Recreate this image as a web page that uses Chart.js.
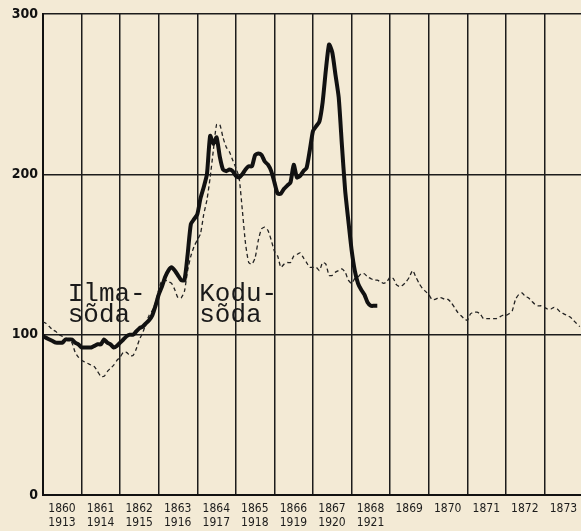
<!DOCTYPE html>
<html>
<head>
<meta charset="utf-8">
<script src="https://cdn.jsdelivr.net/npm/chart.js@4.4.0/dist/chart.umd.min.js"></script>
<style>
  html, body { margin: 0; padding: 0; background: #f3ead5; overflow: hidden; }
  canvas { display: block; }
</style>
</head>
<body>
<canvas id="priceChart" width="600" height="531"></canvas>
<script>
// year labels, one per column (top row: 1860s, bottom row: 1910s)
const yearsTop = ["1860", "1861", "1862", "1863", "1864", "1865", "1866", "1867", "1868", "1869", "1870", "1871", "1872", "1873"];
const yearsBottom = ["1913", "1914", "1915", "1916", "1917", "1918", "1919", "1920", "1921"];
const yTicks = [0, 100, 200, 300];

// monthly index values, 1913 = start (thick line)
const worldWar = [
  99, 98, 97, 96, 95, 95, 95, 97, 97, 97, 95, 94,
  92, 92, 92, 92, 93, 94, 94, 97, 95, 94, 92, 93,
  95, 97, 99, 100, 100, 102, 104, 105, 107, 109, 112, 118,
  125, 130, 136, 140, 142, 140, 137, 134, 134, 150, 169, 172,
  175, 185, 192, 200, 224, 219, 223, 211, 203, 202, 203, 202,
  199, 198, 200, 203, 205, 205, 212, 213, 212, 208, 206, 202,
  195, 188, 188, 191, 193, 195, 206, 198, 199, 202, 204, 215,
  227, 230, 233, 245, 265, 281, 276, 262, 248, 218, 190, 171,
  153, 140, 132, 128, 125, 120, 118, 118, 118
];

// monthly index values, 1860 = start (dashed line)
const civilWar = [
  108, 107, 105, 103, 102, 100, 99, 98, 97, 95, 89, 86,
  84, 83, 82, 81, 80, 77, 74, 74, 77, 79, 81, 84,
  86, 89, 89, 87, 87, 91, 97, 101, 107, 112, 115, 120,
  128, 134, 134, 133, 132, 128, 123, 123, 127, 140, 149, 155,
  159, 163, 175, 184, 198, 215, 231, 231, 223, 217, 214, 209,
  204, 198, 178, 157, 145, 144, 148, 159, 166, 167, 165, 159,
  152, 149, 142, 144, 145, 145, 149, 150, 151, 148, 145, 142,
  142, 142, 140, 145, 144, 137, 137, 139, 140, 141, 139, 134,
  132, 135, 136, 138, 138, 136, 135, 134, 134, 133, 132, 133,
  136, 135, 131, 130, 131, 133, 136, 140, 136, 132, 129, 127,
  125, 122, 122, 123, 123, 122, 122, 120, 117, 114, 112, 110,
  109, 113, 114, 114, 113, 110, 110, 110, 110, 110, 111, 112,
  112, 113, 115, 122, 125, 126, 124, 123, 121, 119, 118, 118,
  117, 116, 116, 117, 116, 114, 113, 112, 111, 109, 107, 105
];

const toPoints = arr => arr.map((v, i) => ({ x: i / 12, y: v }));

const paper = {
  id: "paper",
  beforeDraw(chart) {
    const c = chart.ctx;
    c.save();
    c.fillStyle = "#f3ead5";
    c.fillRect(0, 0, chart.width, chart.height);
    c.restore();
  }
};

// "Ilma-sõda" / "Kodu-sõda" labels inside the plot
const warLabels = {
  id: "warLabels",
  afterDatasetsDraw(chart) {
    const { ctx, scales: { x, y } } = chart;
    ctx.save();
    ctx.fillStyle = "#1a1a1a";
    ctx.font = "26px 'Liberation Mono', monospace";
    ctx.textBaseline = "alphabetic";
    ctx.fillText("Ilma-", x.getPixelForValue(0.64), y.getPixelForValue(121));
    ctx.fillText("sõda", x.getPixelForValue(0.64), y.getPixelForValue(108));
    ctx.fillText("Kodu-", x.getPixelForValue(4.05), y.getPixelForValue(121));
    ctx.fillText("sõda", x.getPixelForValue(4.05), y.getPixelForValue(108));
    ctx.restore();
  }
};

new Chart(document.getElementById("priceChart"), {
  type: "line",
  data: {
    datasets: [{
      label: "1913-1921",
      data: toPoints(worldWar),
      borderColor: "#111",
      borderWidth: 4,
      borderJoinStyle: "round",
      borderCapStyle: "butt",
      pointRadius: 0,
      tension: 0.2
    }, {
      label: "1860-1873",
      data: toPoints(civilWar),
      borderColor: "#222",
      borderWidth: 1.3,
      borderDash: [4, 3],
      pointRadius: 0,
      tension: 0.2
    }]
  },
  options: {
    responsive: false,
    animation: false,
    devicePixelRatio: 1,
    layout: { padding: { top: 14, right: 17, left: 0, bottom: 0 } },
    plugins: {
      legend: { display: false },
      tooltip: { enabled: false }
    },
    scales: {
      x: {
        type: "linear",
        min: 0,
        max: 14,
        afterFit(scale) { scale.height = 36; },
        afterBuildTicks(scale) {
          scale.ticks = yearsTop.map((_, i) => ({ value: i })).concat([{ value: 14 }]);
        },
        grid: { color: "#1c1c1c", lineWidth: 1.5, drawTicks: false },
        border: { color: "#111", width: 2 },
        ticks: {
          autoSkip: false,
          maxRotation: 0,
          padding: 7,
          labelOffset: 19,
          color: "#1c1c1c",
          font: { family: "'DejaVu Sans Condensed', 'DejaVu Sans', sans-serif", size: 12, lineHeight: 1.15 },
          callback: v => v < yearsTop.length ? [yearsTop[v], yearsBottom[v] || ""] : ""
        }
      },
      y: {
        min: 0,
        max: 300,
        afterFit(scale) { scale.width = 43; },
        afterBuildTicks(scale) {
          scale.ticks = yTicks.map(v => ({ value: v }));
        },
        grid: { color: "#1c1c1c", lineWidth: 1.5, drawTicks: false },
        border: { color: "#111", width: 2 },
        ticks: {
          padding: 5,
          color: "#111",
          font: { family: "'DejaVu Sans Condensed', 'DejaVu Sans', sans-serif", size: 14, weight: "bold" }
        }
      }
    }
  },
  plugins: [paper, warLabels]
});
</script>
</body>
</html>
